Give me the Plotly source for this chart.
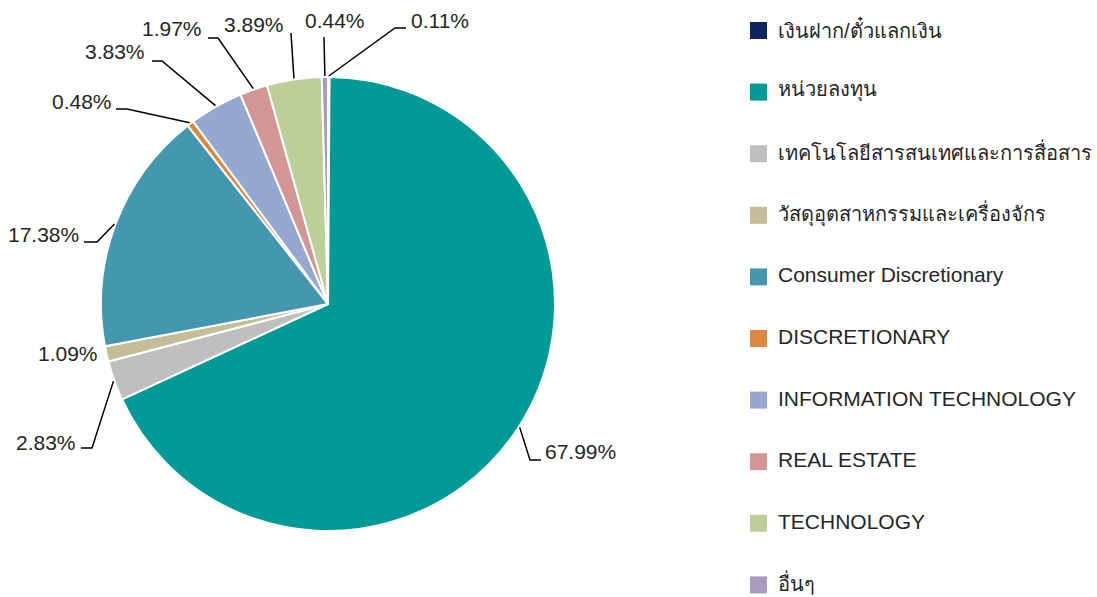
import math
import re
import plotly.graph_objects as go

# ---------------- data ----------------
labels = [
    "เงินฝาก/ตั๋วแลกเงิน",
    "หน่วยลงทุน",
    "เทคโนโลยีสารสนเทศและการสื่อสาร",
    "วัสดุอุตสาหกรรมและเครื่องจักร",
    "Consumer Discretionary",
    "DISCRETIONARY",
    "INFORMATION TECHNOLOGY",
    "REAL ESTATE",
    "TECHNOLOGY",
    "อื่นๆ",
]
values = [0.11, 67.99, 2.83, 1.09, 17.38, 0.48, 3.83, 1.97, 3.89, 0.44]
colors = ["#0E2462", "#009A96", "#BFBFBF", "#C4BD97", "#4398B0",
          "#DF873F", "#95A8D0", "#D49595", "#BBD098", "#A89BC0"]

# ---------------- layout constants ----------------
W, H = 1097, 597
CX, CY, R = 328, 304, 227            # pie centre / radius (pixels)
FONT = "Liberation Sans, Arial, sans-serif"
TXT = "#262626"

# leader-line elbow / end points and label anchors (pixels)
label_layout = [
    dict(pts=[(395, 28), (406, 28)], tx=409, ty=20, xa="left"),
    dict(pts=[(324, 37)], tx=335, ty=20, xa="center"),
    dict(pts=[(291, 33)], tx=286, ty=25, xa="right"),
    dict(pts=[(218, 38), (208, 38)], tx=204, ty=28, xa="right"),
    dict(pts=[(162, 61), (152, 61)], tx=147, ty=51, xa="right"),
    dict(pts=[(127, 109), (116, 109)], tx=114, ty=101, xa="right"),
    dict(pts=[(97, 242), (84, 242)], tx=81, ty=235, xa="right"),
    dict(pts=[], tx=100, ty=353, xa="right"),
    dict(pts=[(92, 448), (81, 448)], tx=78, ty=442, xa="right"),
    dict(pts=[(530, 460), (541, 460)], tx=543, ty=451, xa="left"),
]
slice_order_for_layout = [0, 9, 8, 7, 6, 5, 4, 3, 2, 1]

LEG_X, LEG_Y0, LEG_DY, SQ = 750, 30.5, 61.6, 17


def px(x):
    return x / W


def py(y):
    return 1 - y / H


fig = go.Figure()
fig.add_trace(go.Pie(
    labels=labels, values=values, sort=False, direction="clockwise",
    rotation=0, textinfo="none", hoverinfo="label+percent",
    marker=dict(colors=colors, line=dict(color="white", width=2)),
    showlegend=False,
    domain=dict(x=[px(CX - R), px(CX + R)], y=[py(CY + R), py(CY - R)]),
))

total = sum(values)
cum = 0.0
mids = []
for v in values:
    mids.append((cum + v / 2) / total * 2 * math.pi)
    cum += v

shapes = []
annotations = []
for k, idx in enumerate(slice_order_for_layout):
    lay = label_layout[k]
    a = mids[idx]
    sx = CX + (R + 1) * math.sin(a)
    sy = CY - (R + 1) * math.cos(a)
    if lay["pts"]:
        path = "M{:.5f},{:.5f}".format(px(sx), py(sy))
        for (x, y) in lay["pts"]:
            path += " L{:.5f},{:.5f}".format(px(x), py(y))
        shapes.append(dict(type="path", xref="paper", yref="paper", path=path,
                           line=dict(color="black", width=1.5)))
    annotations.append(dict(
        x=px(lay["tx"]), y=py(lay["ty"]), xref="paper", yref="paper",
        text="{:.2f}%".format(values[idx]), showarrow=False,
        xanchor=lay["xa"], yanchor="middle",
        font=dict(family=FONT, size=21, color=TXT)))

thai = re.compile("[\u0E00-\u0E7F]")
for i, (lab, col) in enumerate(zip(labels, colors)):
    cy = LEG_Y0 + i * LEG_DY
    shapes.append(dict(type="rect", xref="paper", yref="paper",
                       x0=px(LEG_X), x1=px(LEG_X + SQ),
                       y0=py(cy + SQ / 2), y1=py(cy - SQ / 2),
                       fillcolor=col, line=dict(width=0)))
    annotations.append(dict(
        x=px(LEG_X + 26), y=py(cy - 2), xref="paper", yref="paper",
        text=lab, showarrow=False, xanchor="left", yanchor="middle",
        font=dict(family=FONT, size=20 if thai.search(lab) else 21,
                  color=TXT)))

fig.update_layout(
    width=W, height=H, margin=dict(l=0, r=0, t=0, b=0),
    paper_bgcolor="white", plot_bgcolor="white",
    shapes=shapes, annotations=annotations,
)

fig.write_html(
    "out.html",
    config={"displayModeBar": False},
    post_script="document.body.style.margin='0px';"
                "document.body.style.overflow='hidden';",
)
